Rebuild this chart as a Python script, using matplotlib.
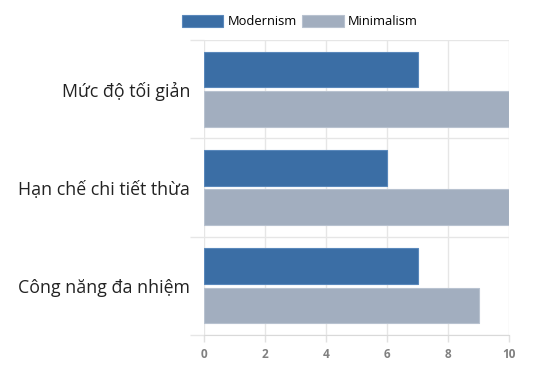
import matplotlib
matplotlib.use("Agg")
import matplotlib.pyplot as plt
import numpy as np

categories = ["Mức độ tối giản", "Hạn chế chi tiết thừa", "Công năng đa nhiệm"]
modernism = [7, 6, 7]
minimalism = [10, 10, 9]
series_names = ["Modernism", "Minimalism"]
x_ticks = [0, 2, 4, 6, 8, 10]

c_mod = "#3b6ea5"
c_min = "#a2aebf"

plt.rcParams['font.family'] = ['Open Sans', 'DejaVu Sans']

fig = plt.figure(figsize=(5.52, 3.74), dpi=100)
ax = fig.add_axes([204/552, 1-335/374, (509-204)/552, (335-40)/374])

y = np.arange(len(categories))
h = 0.36
ax.barh(y - 0.2, modernism, height=h, color=c_mod, edgecolor="#5a88bb", linewidth=0.8, label=series_names[0], zorder=3)
ax.barh(y + 0.2, minimalism, height=h, color=c_min, edgecolor="#b8c2d0", linewidth=0.8, label=series_names[1], zorder=3)

ax.set_xlim(0, 10)
ax.set_ylim(2.5, -0.5)
ax.set_xticks(x_ticks)
ax.set_xticklabels([str(t) for t in x_ticks], fontsize=8.5, fontweight="bold", color="#808080")
ax.set_yticks(y)
ax.set_yticklabels(categories, fontsize=12.8, color="#222222")
ax.set_yticks([-0.5, 0.5, 1.5, 2.5], minor=True)
ax.tick_params(axis="y", which="major", length=0, pad=10)
ax.tick_params(axis="y", which="minor", length=10, color="#e6e6e6", width=1)
ax.tick_params(axis="x", which="major", length=5, color="#e0e0e0", width=1, pad=4)
ax.grid(axis="x", color="#e6e6e6", linewidth=1, zorder=0)
ax.grid(axis="y", which="minor", color="#e6e6e6", linewidth=1, zorder=0)
for s in ["top", "right", "left"]:
    ax.spines[s].set_visible(False)
ax.spines["bottom"].set_color("#d9d9d9")
ax.set_axisbelow(True)

fig.legend(loc="upper center", bbox_to_anchor=(300/552, 0.975), ncol=2, frameon=False,
           fontsize=9.3, handlelength=3.2, handleheight=1.1, handletextpad=0.35,
           columnspacing=0.4, borderaxespad=0)

fig.savefig("out.png", dpi=100, facecolor="white")
